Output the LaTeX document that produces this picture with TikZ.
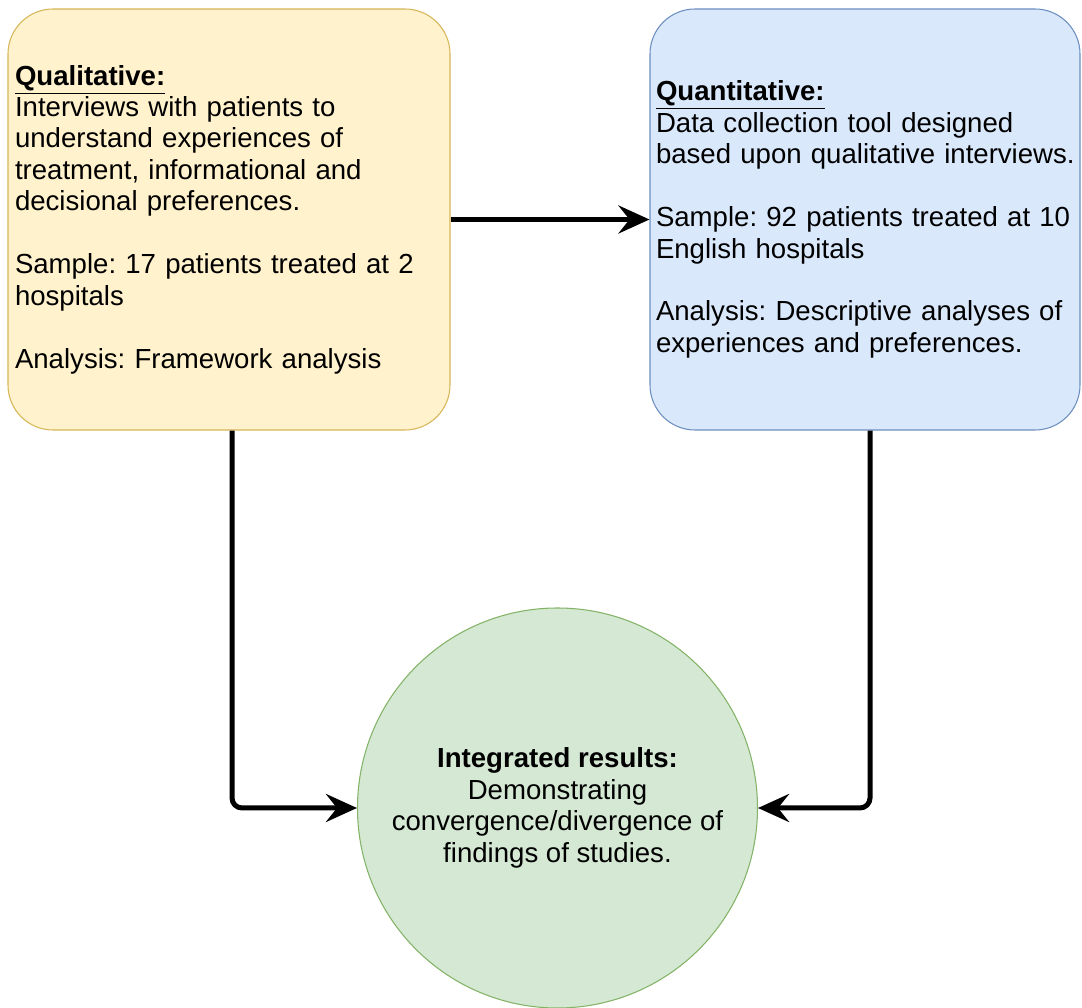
\documentclass[tikz,border=0pt]{standalone}
\usepackage{fontspec}
\setmainfont{Liberation Sans}
\usepackage{tikz}
\usetikzlibrary{arrows.meta,positioning}
\definecolor{qualFill}{HTML}{FFF2CC}
\definecolor{qualLine}{HTML}{D6B656}
\definecolor{quantFill}{HTML}{DAE8FC}
\definecolor{quantLine}{HTML}{6C8EBF}
\definecolor{resFill}{HTML}{D5E8D4}
\definecolor{resLine}{HTML}{82B366}
\frenchspacing
\hyphenpenalty=10000

\begin{document}
\begin{tikzpicture}[font=\fontsize{15.7}{17.9}\selectfont,
  bx/.style={draw, line width=0.6pt, rounded corners=0.9cm, minimum height=8.42cm, inner sep=0.14cm, align=left},
  lnk/.style={line width=0.1cm, rounded corners=0.2cm, -{Stealth[length=0.62cm, width=0.56cm, inset=0.22cm]}}]
\useasboundingbox (0,0) rectangle (21.64,-20.16);
% two study boxes, then the merged result
\node[bx, fill=qualFill, draw=qualLine, minimum width=8.84cm, text width=8.56cm] (Qual) at (4.58,-4.39)
  {\underline{\textbf{Qualitative:}}\\Interviews with patients to\\understand experiences of\\treatment, informational and\\decisional preferences.\\[17.9pt]Sample: 17 patients treated at 2\\hospitals\\[17.9pt]Analysis: Framework analysis};
\node[bx, fill=quantFill, draw=quantLine, minimum width=8.6cm, text width=8.36cm, inner sep=0.12cm] (Quant) at (17.3,-4.39)
  {\underline{\textbf{Quantitative:}}\\Data collection tool designed\\\mbox{based upon qualitative interviews.}\\[17.9pt]Sample: 92 patients treated at 10\\English hospitals\\[17.9pt]Analysis: Descriptive analyses of\\experiences and preferences.};
\node[circle, draw=resLine, fill=resFill, line width=0.6pt, minimum size=8cm, align=center] (Res) at (11.15,-16.16)
  {\textbf{Integrated results:}\\Demonstrating\\convergence/divergence of\\findings of studies.};
% connectors
\draw[lnk] (Qual) -- (Quant);
\draw[lnk] ([xshift=0.06cm]Qual.south) |- (Res);
\draw[lnk] ([xshift=0.1cm]Quant.south) |- (Res);
\end{tikzpicture}
\end{document}
